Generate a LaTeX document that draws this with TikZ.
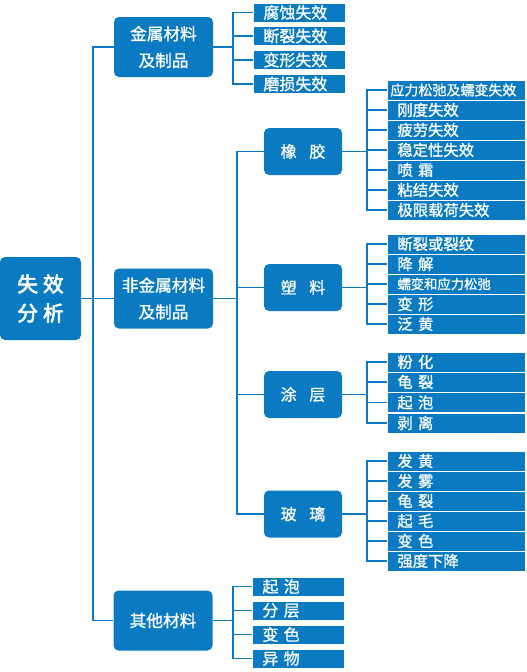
\documentclass[tikz,border=0pt]{standalone}
\usepackage{fontspec}
\newfontfamily\cjk[FakeBold=1]{Noto Sans CJK SC}
\newfontfamily\cjkb[FakeBold=3]{Noto Sans CJK SC}
\definecolor{mblue}{HTML}{0A7BC2}
\newcommand{\gs}{\hspace{4pt}}
\newcommand{\gm}{\hspace{9.5pt}}
\begin{document}
\begin{tikzpicture}[x=0.75pt,y=-0.75pt,
  conn/.style={draw=mblue, line width=1.4pt},
  box/.style={fill=mblue, text=white, rounded corners=3.75pt, inner sep=0pt, align=center},
  rootbox/.style={box, minimum width=60.75pt, minimum height=62.25pt, font=\cjkb\fontsize{15.5}{21.75}\selectfont},
  lone/.style={box, minimum width=74.25pt, minimum height=45pt, font=\cjk\fontsize{12.5}{20}\selectfont},
  ltwo/.style={box, minimum width=58.5pt, minimum height=35.25pt, font=\cjk\fontsize{12}{14}\selectfont},
  leafbase/.style={fill=mblue, draw=white, line width=0.6pt, text=white, anchor=west, inner ysep=0pt, inner xsep=7.5pt, align=left},
  leafa/.style={leafbase, minimum width=103.5pt, text width=88.5pt, minimum height=15pt, font=\cjk\fontsize{11.5}{13}\selectfont},
  leafb/.style={leafbase, minimum width=69pt, text width=54pt, minimum height=14.25pt, font=\cjk\fontsize{12}{13}\selectfont}
]
\useasboundingbox (0,0) rectangle (527,672);
% main nodes
\node[rootbox] (root) at (40.5,298.5) {失\hspace{3.75pt}效\\分\hspace{3.75pt}析};
\node[lone] (mm) at (163.5,47) {金属材料\\及制品};
\node[lone] (nm) at (163.5,298.5) {非金属材料\\及制品};
\node[lone] (oth) at (163,620.5) {其他材料};
\node[ltwo] (rub) at (303,151.5) {橡\gm 胶};
\node[ltwo] (pla) at (303,287.5) {塑\gm 料};
\node[ltwo] (coa) at (303,394.5) {涂\gm 层};
\node[ltwo] (gla) at (303,514) {玻\gm 璃};
% metal leaves
\node[leafb] (m1) at (253,12.5) {腐蚀失效};
\node[leafb] (m2) at (253,36) {断裂失效};
\node[leafb] (m3) at (253,60) {变形失效};
\node[leafb] (m4) at (253,84) {磨损失效};
% rubber leaves
\node[leafa, inner xsep=2.25pt, text width=99pt, font=\cjk\fontsize{10.5}{12}\selectfont] (r1) at (387,90) {应力松弛及蠕变失效};
\node[leafa] (r2) at (387,110) {刚度失效};
\node[leafa] (r3) at (387,130) {疲劳失效};
\node[leafa] (r4) at (387,150) {稳定性失效};
\node[leafa] (r5) at (387,170) {喷\gs 霜};
\node[leafa] (r6) at (387,190) {粘结失效};
\node[leafa] (r7) at (387,210) {极限载荷失效};
% plastic leaves
\node[leafa] (p1) at (387,244) {断裂或裂纹};
\node[leafa] (p2) at (387,264) {降\gs 解};
\node[leafa, font=\cjk\fontsize{10}{12}\selectfont] (p3) at (387,284) {蠕变和应力松弛};
\node[leafa] (p4) at (387,304) {变\gs 形};
\node[leafa] (p5) at (387,324) {泛\gs 黄};
% coating leaves
\node[leafa] (c1) at (387,362) {粉\gs 化};
\node[leafa] (c2) at (387,382) {龟\gs 裂};
\node[leafa] (c3) at (387,402.5) {起\gs 泡};
\node[leafa] (c4) at (387,423) {剥\gs 离};
% glass leaves
\node[leafa] (g1) at (387,461) {发\gs 黄};
\node[leafa] (g2) at (387,481) {发\gs 雾};
\node[leafa] (g3) at (387,501) {龟\gs 裂};
\node[leafa] (g4) at (387,521) {起\gs 毛};
\node[leafa] (g5) at (387,541) {变\gs 色};
\node[leafa] (g6) at (387,561) {强度下降};
% other leaves
\node[leafb] (o1) at (252,586.5) {起\gs 泡};
\node[leafb] (o2) at (252,610.5) {分\gs 层};
\node[leafb] (o3) at (252,634.5) {变\gs 色};
\node[leafb] (o4) at (252,658.5) {异\gs 物};
% bus coordinates
\coordinate (tk) at (93,298.5);
\coordinate (mb) at (233,47);
\coordinate (nb) at (237,298.5);
\coordinate (rb) at (367,151.5);
\coordinate (pb) at (367,287.5);
\coordinate (cb) at (367,394.5);
\coordinate (gb) at (367,514);
\coordinate (ob) at (233,620.5);
% connectors
\draw[conn] (root.east) -- (nm.west);
\draw[conn] (mm.west) -| (tk) |- (oth.west);
\draw[conn] (mm.east) -- (mb);
\draw[conn] (m1.west) -| (mb) |- (m4.west);
\foreach \n in {m2,m3} \draw[conn] (\n.west) -- (\n.west -| mb);
\draw[conn] (nm.east) -- (nb);
\draw[conn] (rub.west) -| (nb) |- (gla.west);
\foreach \n in {pla,coa} \draw[conn] (\n.west) -- (\n.west -| nb);
\draw[conn] (rub.east) -- (rb);
\draw[conn] (r1.west) -| (rb) |- (r7.west);
\foreach \n in {r2,r3,r4,r5,r6} \draw[conn] (\n.west) -- (\n.west -| rb);
\draw[conn] (pla.east) -- (pb);
\draw[conn] (p1.west) -| (pb) |- (p5.west);
\foreach \n in {p2,p3,p4} \draw[conn] (\n.west) -- (\n.west -| pb);
\draw[conn] (coa.east) -- (cb);
\draw[conn] (c1.west) -| (cb) |- (c4.west);
\foreach \n in {c2,c3} \draw[conn] (\n.west) -- (\n.west -| cb);
\draw[conn] (gla.east) -- (gb);
\draw[conn] (g1.west) -| (gb) |- (g6.west);
\foreach \n in {g2,g3,g4,g5} \draw[conn] (\n.west) -- (\n.west -| gb);
\draw[conn] (oth.east) -- (ob);
\draw[conn] (o1.west) -| (ob) |- (o4.west);
\foreach \n in {o2,o3} \draw[conn] (\n.west) -- (\n.west -| ob);
\end{tikzpicture}
\end{document}
